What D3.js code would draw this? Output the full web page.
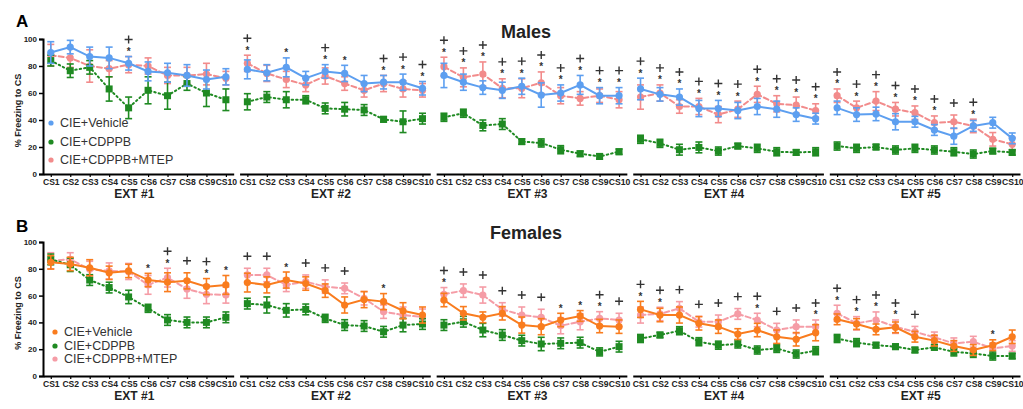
<!DOCTYPE html>
<html>
<head>
<meta charset="utf-8">
<script src="https://cdn.jsdelivr.net/npm/d3@7/dist/d3.min.js"></script>
<style>
  body { margin: 0; background: #fff; }
  svg { font-family: Arial, "Liberation Sans", sans-serif; }
</style>
</head>
<body>
<svg id="chart" width="1023" height="409"></svg>
<script>
// sessions and trials
var sessions = ["EXT #1", "EXT #2", "EXT #3", "EXT #4", "EXT #5"];
var trials = ["CS1", "CS2", "CS3", "CS4", "CS5", "CS6", "CS7", "CS8", "CS9", "CS10"];
var groups = ["CIE+Vehicle", "CIE+CDPPB", "CIE+CDPPB+MTEP"];

// Males: mean % freezing, one row per session
var maleVehicle = [
    [90, 94, 87, 86, 82, 76, 75, 73, 70, 72],
    [77.5, 75, 79, 71, 76, 74.5, 67, 68, 68, 63.5],
    [73, 68, 64, 62, 65, 58.5, 60, 66, 58, 58],
    [63, 59, 57, 48.5, 48.5, 47, 50, 48, 44, 41],
    [49, 44, 44.5, 38.7, 38.7, 32.6, 28, 35.6, 38, 26.4]
];
var maleVehicleErr = [
    [8, 5, 7, 8, 5, 7, 7, 8, 7, 6],
    [7, 6, 7, 5, 5, 6, 6, 5, 6, 5],
    [9, 6, 5, 6, 6, 9, 6, 7, 6, 6],
    [8, 5, 6, 6, 6, 6, 6, 6, 5, 4],
    [5, 5, 5, 6, 4, 4, 6, 4, 4, 4]
];
var maleCdppb = [
    [84, 76.5, 79, 63, 49, 62, 58, 67, 60, 55],
    [53.5, 57, 55, 55, 48.6, 48, 47.4, 40.5, 38.7, 41],
    [42, 45, 36, 37, 24, 23, 18, 15, 13, 16.5],
    [25.7, 22.7, 18, 19.7, 17, 20.7, 19, 16.5, 16, 16.5],
    [20.7, 19, 20, 17.8, 19, 17.8, 16.5, 14.8, 17, 16]
];
var maleCdppbErr = [
    [4, 5, 5, 9, 8, 10, 10, 5, 10, 8],
    [6, 4, 6, 3, 4, 5, 4, 2, 8, 4],
    [3, 3, 4, 4, 2, 3, 3, 2, 2, 2],
    [3, 3, 4, 4, 3, 2, 3, 3, 2, 3],
    [3, 3, 2, 3, 3, 3, 3, 3, 2, 2]
];
var maleMtep = [
    [88, 86, 80, 78, 81, 80, 73, 73, 74, 71],
    [82, 74.5, 70, 66, 72.6, 67, 62, 67, 63, 62],
    [79.5, 71.6, 74, 63.5, 63.5, 67.6, 58, 56, 58, 55],
    [57, 60, 50, 50, 44, 48, 59, 52, 51, 47],
    [58, 49, 54, 48, 45.4, 38, 38.7, 35.6, 25.7, 22]
];
var maleMtepErr = [
    [8, 7, 12, 6, 6, 6, 6, 6, 8, 5],
    [6, 6, 6, 5, 6, 5, 5, 6, 6, 5],
    [7, 7, 9, 7, 7, 8, 6, 5, 5, 6],
    [9, 6, 5, 6, 6, 6, 6, 6, 6, 5],
    [5, 5, 7, 5, 5, 5, 5, 5, 5, 5]
];
// significance marks (CS numbers)
var maleStar = [[5], [1, 3, 5, 6, 8, 9, 10], [1, 2, 3, 4, 5, 6, 7, 8, 9, 10], [1, 2, 3, 4, 5, 6, 7, 8, 9, 10], [1, 2, 3, 4, 5, 6, 8]];
var malePlus = [[5], [1, 5, 8, 9, 10], [1, 2, 3, 4, 5, 6, 7, 8, 9, 10], [1, 2, 3, 4, 5, 6, 7, 8, 9, 10], [1, 2, 3, 4, 5, 6, 7, 8]];

// Females
var femaleVehicle = [
    [84.8, 83.6, 80.8, 77, 78.4, 71.6, 70, 71, 66.7, 68],
    [69.7, 68, 71.6, 69, 63.7, 53, 57, 55.5, 48.7, 45.5],
    [56.7, 46.8, 43.8, 46.8, 38, 36.8, 41.8, 44.8, 37.3, 36.8],
    [49.7, 45.5, 45.5, 39.3, 36.8, 31.3, 34.3, 29.3, 27.4, 32.3],
    [42.3, 38.8, 34.8, 36.3, 29.3, 26.4, 22.4, 19.4, 23, 29.3]
];
var femaleVehicleErr = [
    [5, 5, 6, 5, 5, 5, 7, 6, 6, 7],
    [7, 6, 6, 5, 5, 6, 6, 6, 6, 6],
    [5, 5, 4, 5, 6, 6, 5, 4, 5, 5],
    [6, 5, 6, 5, 5, 4, 5, 5, 5, 6],
    [4, 4, 4, 4, 4, 4, 4, 4, 4, 5]
];
var femaleCdppb = [
    [87, 83, 71.6, 66, 59, 50.5, 41.8, 40, 40, 43.8],
    [54, 53, 49, 49.7, 43, 38, 37.3, 33, 38, 38.8],
    [38, 40.5, 34.3, 30.6, 26.4, 23.9, 24.4, 24.9, 18, 21.9],
    [28, 30.6, 33.8, 25.6, 23, 23.9, 19.4, 20.6, 16.4, 18.9],
    [28, 24.9, 23, 21.9, 19.4, 21.4, 18, 16.9, 14.9, 14.9]
];
var femaleCdppbErr = [
    [4, 5, 4, 4, 5, 3, 4, 4, 4, 4],
    [4, 6, 5, 4, 3, 4, 4, 4, 5, 4],
    [4, 4, 5, 4, 4, 5, 4, 4, 3, 4],
    [3, 2, 3, 3, 3, 3, 3, 3, 3, 3],
    [3, 3, 2, 2, 2, 2, 3, 3, 3, 2]
];
var femaleMtep = [
    [86, 87, 79.6, 78.4, 78, 68, 73.4, 65, 61, 60.4],
    [75.4, 75.4, 68, 70.4, 66.7, 65.4, 58, 48, 45.5, 44],
    [61, 63.7, 60.4, 49.7, 45.5, 43.8, 37.5, 40.5, 43, 41.8],
    [45.5, 46.3, 50.5, 40.5, 40.5, 46.3, 41.8, 34.3, 36.8, 36.8],
    [46.8, 39.3, 41.8, 36.8, 33, 28.8, 24.4, 25.6, 20.6, 22.4]
];
var femaleMtepErr = [
    [6, 5, 6, 6, 6, 7, 7, 7, 7, 6],
    [5, 5, 5, 5, 5, 4, 5, 5, 6, 6],
    [5, 5, 6, 5, 6, 6, 6, 6, 5, 5],
    [6, 5, 5, 4, 5, 4, 5, 5, 5, 5],
    [6, 5, 6, 5, 4, 4, 4, 4, 4, 4]
];
var femaleStar = [[6, 7, 9, 10], [3, 8], [1, 7, 8, 9], [1, 2, 7, 10], [1, 2, 3, 4, 9]];
var femalePlus = [[7, 8, 9], [1, 2, 4, 5, 6], [1, 2, 3, 4, 5, 6, 9, 10], [1, 2, 3, 4, 5, 6, 7, 8, 9, 10], [1, 2, 3, 4, 5]];

var svg = d3.select("#chart");

// x: one band per session, points for CS inside
var xSession = d3.scaleBand()
    .domain(sessions)
    .range([43, 1020])
    .paddingInner(0.03)
    .paddingOuter(0);

var xTrial = d3.scalePoint()
    .domain(trials)
    .range([0, xSession.bandwidth()])
    .padding(0.4);

function xPos(s, t) {
    return xSession(sessions[s]) + xTrial(trials[t]);
}

var green = "#1f8a22";

function drawPanel(cfg) {
    var y = d3.scaleLinear().domain([0, 100]).range([cfg.bottom, cfg.top]);
    var g = svg.append("g");

    // panel letter and title
    g.append("text")
        .attr("x", 16)
        .attr("y", cfg.letterY)
        .attr("font-size", 17)
        .attr("font-weight", "bold")
        .text(cfg.letter);

    g.append("text")
        .attr("x", 526)
        .attr("y", cfg.titleY)
        .attr("text-anchor", "middle")
        .attr("font-size", 18)
        .attr("font-weight", "bold")
        .attr("fill", "#222")
        .text(cfg.title);

    // y axis
    var yAxis = g.append("g")
        .attr("transform", "translate(43,0)")
        .call(d3.axisLeft(y).tickValues([0, 20, 40, 60, 80, 100]).tickSize(4).tickPadding(2));
    yAxis.select(".domain").attr("stroke-width", 2);
    yAxis.selectAll(".tick line").attr("stroke-width", 1.5);
    yAxis.selectAll("text")
        .attr("font-size", 8)
        .attr("font-weight", "bold")
        .attr("fill", "#222")
        .attr("font-family", "Arial, 'Liberation Sans', sans-serif");

    g.append("text")
        .attr("transform", "translate(21," + ((cfg.top + cfg.bottom) / 2 + 4) + ") rotate(-90)")
        .attr("text-anchor", "middle")
        .attr("font-size", 9)
        .attr("font-weight", "bold")
        .attr("fill", "#222")
        .text("% Freezing to CS");

    // x axis, one piece per session
    sessions.forEach(function (s, i) {
        var ax = g.append("g")
            .attr("transform", "translate(" + xSession(s) + "," + cfg.bottom + ")")
            .call(d3.axisBottom(xTrial).tickSize(3).tickSizeOuter(0).tickPadding(2));
        ax.select(".domain").attr("stroke-width", 2);
        ax.selectAll(".tick line").attr("stroke-width", 1.2);
        ax.selectAll("text")
            .attr("font-size", 8.6)
            .attr("font-weight", "bold")
            .attr("fill", "#222")
            .attr("font-family", "Arial, 'Liberation Sans', sans-serif");
        g.append("text")
            .attr("x", xSession(s) + xSession.bandwidth() / 2 - 4)
            .attr("y", cfg.bottom + 24)
            .attr("text-anchor", "middle")
            .attr("font-size", 12)
            .attr("font-weight", "bold")
            .attr("fill", "#222")
            .text(s);
    });

    var series = [
        { values: cfg.mtep, err: cfg.mtepErr, color: cfg.colors[2], dash: "5,3", shape: "circle" },
        { values: cfg.cdppb, err: cfg.cdppbErr, color: cfg.colors[1], dash: "1.5,3", shape: "square" },
        { values: cfg.vehicle, err: cfg.vehicleErr, color: cfg.colors[0], dash: null, shape: "circle" }
    ];

    var line = d3.line()
        .x(function (d) { return d.x; })
        .y(function (d) { return y(d.v); });

    series.forEach(function (ser) {
        ser.values.forEach(function (row, s) {
            var pts = row.map(function (v, t) {
                return { x: xPos(s, t), v: v, e: ser.err[s][t] };
            });
            var sg = g.append("g");
            sg.append("path")
                .attr("d", line(pts))
                .attr("fill", "none")
                .attr("stroke", ser.color)
                .attr("stroke-width", 2)
                .attr("stroke-linecap", "round")
                .attr("stroke-dasharray", ser.dash);

            // error bars
            var eb = sg.selectAll(".eb").data(pts).enter().append("g");
            eb.append("line")
                .attr("x1", function (d) { return d.x; })
                .attr("x2", function (d) { return d.x; })
                .attr("y1", function (d) { return y(d.v - d.e); })
                .attr("y2", function (d) { return y(d.v + d.e); })
                .attr("stroke", ser.color)
                .attr("stroke-width", 1.6);
            [-1, 1].forEach(function (sign) {
                eb.append("line")
                    .attr("x1", function (d) { return d.x - 3.5; })
                    .attr("x2", function (d) { return d.x + 3.5; })
                    .attr("y1", function (d) { return y(d.v + sign * d.e); })
                    .attr("y2", function (d) { return y(d.v + sign * d.e); })
                    .attr("stroke", ser.color)
                    .attr("stroke-width", 1.6);
            });

            if (ser.shape === "square") {
                sg.selectAll(".pt").data(pts).enter().append("rect")
                    .attr("x", function (d) { return d.x - 3.5; })
                    .attr("y", function (d) { return y(d.v) - 3.5; })
                    .attr("width", 7)
                    .attr("height", 7)
                    .attr("fill", ser.color);
            } else {
                sg.selectAll(".pt").data(pts).enter().append("circle")
                    .attr("cx", function (d) { return d.x; })
                    .attr("cy", function (d) { return y(d.v); })
                    .attr("r", 3.6)
                    .attr("fill", ser.color);
            }
        });
    });

    // significance marks above the highest error bar
    sessions.forEach(function (s, si) {
        trials.forEach(function (t, ti) {
            var cs = ti + 1;
            var hasStar = cfg.star[si].indexOf(cs) >= 0;
            var hasPlus = cfg.plus[si].indexOf(cs) >= 0;
            if (!hasStar && !hasPlus) return;
            var top = d3.max(series, function (ser) {
                return ser.values[si][ti] + ser.err[si][ti];
            });
            var x = xPos(si, ti);
            var yTop = y(top);
            if (hasStar) {
                g.append("text")
                    .attr("x", x)
                    .attr("y", yTop - 7 + 5.5)
                    .attr("text-anchor", "middle")
                    .attr("font-size", 10)
                    .attr("font-weight", "bold")
                    .attr("fill", "#333")
                    .text("*");
            }
            if (hasPlus) {
                var py = hasStar ? yTop - 17 : yTop - 12;
                g.append("path")
                    .attr("d", "M" + (x - 4) + "," + py + "H" + (x + 4) + "M" + x + "," + (py - 4) + "V" + (py + 4))
                    .attr("stroke", "#333")
                    .attr("stroke-width", 1.4);
            }
        });
    });

    // legend
    var lg = g.append("g");
    groups.forEach(function (name, i) {
        var ly = cfg.legendY[i];
        lg.append("circle")
            .attr("cx", cfg.legendX)
            .attr("cy", ly)
            .attr("r", 2.6)
            .attr("fill", cfg.colors[i]);
        lg.append("text")
            .attr("x", cfg.legendX + 9)
            .attr("y", ly + 4.3)
            .attr("font-size", 12.5)
            .attr("fill", "#333")
            .text(name);
    });
}

drawPanel({
    letter: "A", letterY: 27, title: "Males", titleY: 38,
    top: 39, bottom: 174,
    vehicle: maleVehicle, vehicleErr: maleVehicleErr,
    cdppb: maleCdppb, cdppbErr: maleCdppbErr,
    mtep: maleMtep, mtepErr: maleMtepErr,
    star: maleStar, plus: malePlus,
    colors: ["#5d9ff0", green, "#f28b8b"],
    legendX: 51, legendY: [123, 142, 160]
});

drawPanel({
    letter: "B", letterY: 232, title: "Females", titleY: 239,
    top: 242, bottom: 376,
    vehicle: femaleVehicle, vehicleErr: femaleVehicleErr,
    cdppb: femaleCdppb, cdppbErr: femaleCdppbErr,
    mtep: femaleMtep, mtepErr: femaleMtepErr,
    star: femaleStar, plus: femalePlus,
    colors: ["#f97c1e", green, "#f59ca6"],
    legendX: 55, legendY: [332, 346, 359]
});
</script>
</body>
</html>
